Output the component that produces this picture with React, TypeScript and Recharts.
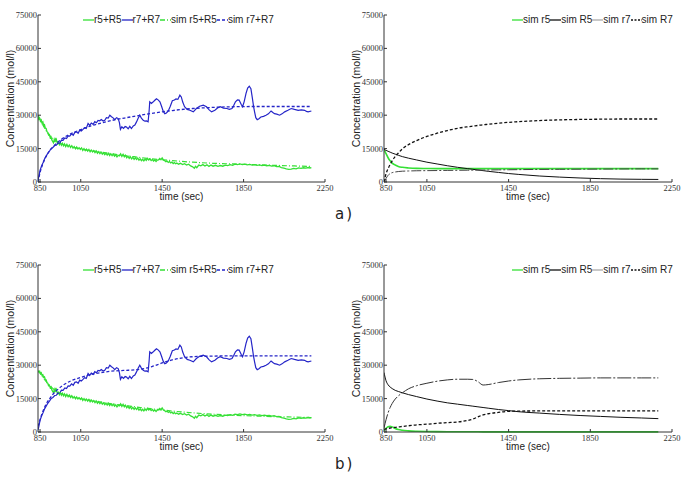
import React from 'react';
import { LineChart, Line, XAxis, YAxis, Legend } from 'recharts';

const X_TICKS = [850, 1050, 1450, 1850, 2250];
const Y_TICKS = [0, 15000, 30000, 45000, 60000, 75000];

// measured r7+R7 (time, concentration)
const r7Meas: number[][] = [
  [840, 800], [845, 2900], [850, 5200], [858, 7300], [865, 8700], [873, 10500], [880, 11600], [888, 12900],
  [897, 14000], [905, 15100], [913, 15500], [922, 16400], [930, 16500], [938, 17600], [947, 17500], [955, 18800],
  [963, 18700], [972, 19800], [980, 19500], [988, 20700], [996, 20600], [1005, 21600], [1013, 21000], [1021, 22300],
  [1029, 22500], [1037, 21900], [1045, 23300], [1053, 22900], [1061, 23600], [1069, 24400], [1077, 24100], [1086, 26300],
  [1094, 25400], [1102, 26500], [1111, 25900], [1119, 27100], [1127, 26600], [1135, 27700], [1143, 27500], [1151, 28100],
  [1160, 27400], [1168, 27700], [1176, 28900], [1185, 28700], [1193, 30000], [1201, 29300], [1209, 28800], [1217, 28000],
  [1226, 28900], [1234, 28500], [1240, 26700], [1245, 23600], [1252, 24800], [1260, 24100], [1268, 24900], [1275, 24700],
  [1283, 23900], [1291, 25000], [1299, 24000], [1308, 25200], [1316, 25600], [1324, 27000], [1332, 28600], [1340, 30000],
  [1348, 28700], [1357, 27700], [1365, 27300], [1373, 27400], [1381, 27000], [1386, 32000], [1389, 36000], [1397, 35300],
  [1405, 35900], [1414, 36700], [1422, 37400], [1430, 36900], [1439, 36000], [1447, 34000], [1455, 31800], [1463, 30700],
  [1471, 31000], [1480, 31900], [1490, 34000], [1500, 36500], [1510, 36800], [1518, 37300], [1527, 37100], [1537, 39000],
  [1544, 38200], [1551, 35900], [1560, 33800], [1573, 32600], [1586, 32200], [1603, 31500], [1618, 33000], [1634, 34000],
  [1652, 34500], [1668, 33800], [1681, 32400], [1693, 31500], [1709, 32200], [1722, 33200], [1735, 33800], [1751, 33200],
  [1768, 33000], [1780, 32600], [1793, 33000], [1802, 34500], [1810, 36000], [1820, 36900], [1828, 36800], [1838, 34900],
  [1845, 33800], [1853, 36100], [1862, 39800], [1870, 42200], [1878, 43000], [1886, 41900], [1893, 37800], [1899, 34000],
  [1904, 31500], [1910, 28900], [1917, 28000], [1924, 28300], [1935, 29200], [1948, 29500], [1960, 30000], [1972, 30600],
  [1985, 31900], [1994, 31200], [2002, 30700], [2013, 30500], [2027, 30000], [2039, 30600], [2052, 31500], [2068, 32200],
  [2084, 33000], [2100, 32600], [2118, 32200], [2134, 32400], [2150, 32200], [2159, 31700], [2167, 31500], [2183, 31900],
];

// measured r5+R5, start of run a)
const r5MeasStartA: number[][] = [
  [840, 29200], [844, 28100], [848, 28600], [852, 27300], [856, 27800], [860, 26400], [864, 26900], [868, 25300],
  [872, 25700], [876, 24200], [880, 24000], [884, 22600], [888, 22300], [892, 21100], [896, 21300],
];
// measured r5+R5, start of run b)
const r5MeasStartB: number[][] = [
  [840, 27500], [844, 27000], [848, 27300], [852, 26200], [856, 26600], [860, 25400], [864, 25700], [868, 24500],
  [872, 24800], [876, 23500], [880, 23400], [884, 22100], [888, 21900], [892, 20800], [896, 21000],
];
// measured r5+R5, rest (same in both runs)
const r5MeasRest: number[][] = [
  [900, 19900], [904, 20300], [908, 18900], [912, 18200], [916, 17600], [920, 19100], [924, 17900], [928, 19800],
  [932, 18400], [936, 17200], [940, 17800], [945, 16700], [950, 17600], [955, 16500], [960, 17400], [965, 16300],
  [970, 17100], [976, 15900], [982, 16900], [988, 15800], [994, 16600], [1000, 15500], [1006, 16300], [1012, 15200],
  [1018, 15900], [1024, 14900], [1030, 15700], [1036, 14800], [1042, 15400], [1048, 14600], [1054, 15300], [1060, 14200],
  [1066, 15000], [1072, 14100], [1078, 14800], [1084, 13900], [1090, 14600], [1096, 13600], [1102, 14300], [1108, 13500],
  [1114, 14100], [1120, 13200], [1126, 13900], [1132, 12900], [1138, 13600], [1144, 12700], [1150, 13400], [1156, 12500],
  [1162, 13100], [1168, 12300], [1174, 13000], [1180, 12100], [1186, 12900], [1192, 11900], [1198, 12600], [1204, 11800],
  [1210, 12500], [1216, 11600], [1222, 12200], [1228, 11300], [1234, 12000], [1240, 11700], [1246, 12600], [1252, 11500],
  [1258, 12400], [1264, 11300], [1270, 12000], [1276, 10900], [1282, 11600], [1288, 10600], [1294, 11300], [1300, 10400],
  [1306, 11100], [1312, 10200], [1318, 10900], [1324, 10100], [1330, 10700], [1336, 9800], [1342, 10400], [1348, 9600],
  [1354, 10200], [1360, 9500], [1366, 10300], [1372, 9700], [1378, 10600], [1384, 9900], [1390, 10400], [1396, 9600],
  [1402, 10100], [1408, 9400], [1414, 9900], [1420, 9200], [1426, 9800], [1432, 9900], [1438, 10600], [1444, 10000],
  [1450, 10800], [1456, 9900], [1462, 9600], [1468, 9100], [1474, 9400], [1480, 8800], [1486, 9200], [1492, 8600],
  [1498, 8900], [1504, 8300], [1510, 8700], [1516, 8200], [1522, 8500], [1530, 8000], [1540, 8400], [1550, 7800],
  [1560, 8200], [1570, 7600], [1580, 8000], [1590, 7200], [1600, 6800], [1608, 6200], [1614, 7000], [1620, 6400],
  [1630, 7600], [1640, 7300], [1650, 7800], [1660, 7200], [1670, 7700], [1680, 7000], [1690, 7600], [1700, 7100],
  [1712, 7500], [1724, 7000], [1736, 7400], [1748, 7100], [1760, 7600], [1772, 7400], [1784, 7800], [1796, 7500],
  [1808, 8000], [1820, 7800], [1832, 8100], [1844, 7800], [1856, 8000], [1868, 7700], [1880, 7900], [1892, 7600],
  [1904, 7800], [1916, 7500], [1928, 7700], [1940, 7400], [1952, 7600], [1964, 7300], [1976, 7500], [1988, 7100],
  [2000, 7300], [2012, 6900], [2024, 7000], [2036, 6500], [2048, 6200], [2060, 5900], [2072, 5700], [2084, 5800],
  [2096, 6100], [2108, 5900], [2120, 6300], [2132, 6100], [2144, 6400], [2156, 6200], [2168, 6500], [2176, 6300],
  [2183, 6500],
];

// simulation time grid
const simTimes = [840, 850, 860, 870, 880, 895, 910, 930, 960, 1000, 1050, 1100, 1150, 1200, 1250, 1275, 1300, 1325, 1350, 1400, 1450, 1500, 1600, 1700, 1800, 1900, 2000, 2100, 2183];

// a) sums
const simR5sumA = [30000, 28200, 26300, 24600, 23100, 21200, 19800, 18400, 17000, 15900, 14900, 14100, 13400, 12700, 12100, 11800, 11500, 11200, 10900, 10400, 10000, 9600, 8900, 8400, 8100, 7800, 7500, 7200, 7000];
const simR7sumA = [0, 4200, 7200, 9600, 11500, 13700, 15400, 17300, 19500, 21600, 23500, 25200, 26500, 27600, 28500, 28900, 29300, 29700, 30100, 30800, 31500, 32100, 33000, 33500, 33800, 33900, 33900, 33900, 33900];
// b) sums
const simR5sumB = [27500, 26400, 25100, 23800, 22700, 21100, 19800, 18400, 17100, 16000, 15000, 14200, 13400, 12700, 12100, 11800, 11500, 11200, 10900, 10400, 9900, 9400, 8600, 8000, 7500, 7200, 6900, 6700, 6500];
const simR7sumB = [2500, 5500, 8300, 10600, 12500, 14700, 16600, 18500, 20800, 22900, 24500, 25800, 26700, 27300, 27600, 27700, 27800, 28000, 28300, 29400, 31000, 32400, 33800, 34100, 34200, 34200, 34200, 34200, 34200];

// a) species
const simr5A = [14700, 12700, 10900, 9500, 8500, 7600, 7000, 6600, 6300, 6100, 6050, 6000, 6000, 6000, 6000, 6000, 6000, 6000, 6000, 6000, 6000, 6000, 6000, 6000, 6000, 6000, 6000, 6000, 6000];
const simR5A = [14700, 14200, 13800, 13400, 13000, 12500, 12000, 11400, 10700, 9900, 8900, 8100, 7300, 6600, 6000, 5700, 5400, 5100, 4800, 4300, 3800, 3400, 2700, 2200, 1800, 1500, 1300, 1200, 1150];
const simr7A = [0, 1600, 3000, 3800, 4200, 4500, 4700, 4850, 4950, 5050, 5100, 5150, 5200, 5250, 5300, 5300, 5350, 5350, 5400, 5450, 5500, 5550, 5650, 5700, 5750, 5800, 5850, 5900, 5900];
const simR7A = [0, 3700, 6000, 7900, 9500, 11500, 13000, 14900, 16800, 18600, 20500, 21900, 23100, 24100, 24800, 25100, 25400, 25700, 25900, 26400, 26800, 27100, 27600, 27900, 28100, 28200, 28300, 28300, 28300];
// b) species
const simr5B = [600, 1700, 2400, 2600, 2300, 1600, 1100, 750, 500, 330, 220, 160, 120, 100, 90, 80, 80, 70, 70, 60, 60, 60, 50, 50, 50, 50, 50, 50, 50];
const simR5B = [26700, 23000, 21200, 20200, 19500, 18700, 18200, 17600, 16800, 15900, 14800, 13900, 13100, 12500, 11900, 11600, 11300, 11000, 10700, 10100, 9600, 9100, 8500, 7900, 7400, 7000, 6600, 6300, 6000];
const simr7B = [1800, 5500, 8600, 11000, 12800, 14800, 16200, 17600, 19400, 20800, 21900, 22800, 23400, 23700, 23700, 23600, 22600, 21100, 21300, 22200, 22900, 23400, 23900, 24100, 24200, 24300, 24300, 24300, 24300];
const simR7B = [1200, 1400, 1600, 1800, 1950, 2100, 2300, 2500, 2800, 3200, 3500, 3900, 4200, 4500, 5200, 5800, 6800, 7700, 8200, 8800, 9300, 9400, 9450, 9450, 9450, 9450, 9450, 9450, 9450];

type Pt = { t: number; v: number };
const fromPairs = (rows: number[][]): Pt[] => rows.map(([t, v]) => ({ t, v }));
const onGrid = (vals: number[]): Pt[] => simTimes.map((t, i) => ({ t, v: vals[i] }));

const GREEN = '#35e035';
const BLUE = '#2525c8';
const BLACK = '#111';
const SANS = "'DejaVu Sans', sans-serif";
const NARROW = "'Liberation Sans', Arial, sans-serif";
const SERIF = "'Liberation Serif', 'Times New Roman', serif";

type Series = {
  name: string;
  data: Pt[];
  stroke: string;
  width: number;
  dash?: string;
  curve: 'linear' | 'monotone';
  legendStroke?: string;
  legendDash?: string;
};

const leftA: Series[] = [
  { name: 'r5+R5', data: fromPairs([...r5MeasStartA, ...r5MeasRest]), stroke: GREEN, width: 1.3, curve: 'linear' },
  { name: 'r7+R7', data: fromPairs(r7Meas), stroke: BLUE, width: 1.2, curve: 'linear' },
  { name: 'sim r5+R5', data: onGrid(simR5sumA), stroke: GREEN, width: 1.2, dash: '5 2 1 2', curve: 'monotone' },
  { name: 'sim r7+R7', data: onGrid(simR7sumA), stroke: BLUE, width: 1.3, dash: '3 2', curve: 'monotone' },
];
const leftB: Series[] = [
  { name: 'r5+R5', data: fromPairs([...r5MeasStartB, ...r5MeasRest]), stroke: GREEN, width: 1.3, curve: 'linear' },
  { name: 'r7+R7', data: fromPairs(r7Meas), stroke: BLUE, width: 1.2, curve: 'linear' },
  { name: 'sim r5+R5', data: onGrid(simR5sumB), stroke: GREEN, width: 1.2, dash: '5 2 1 2', curve: 'monotone' },
  { name: 'sim r7+R7', data: onGrid(simR7sumB), stroke: BLUE, width: 1.3, dash: '3 2', curve: 'monotone' },
];
const rightA: Series[] = [
  { name: 'sim r5', data: onGrid(simr5A), stroke: GREEN, width: 1.6, curve: 'monotone' },
  { name: 'sim R5', data: onGrid(simR5A), stroke: BLACK, width: 1, curve: 'monotone' },
  { name: 'sim r7', data: onGrid(simr7A), stroke: '#444', width: 1, dash: '10 2 2 2', curve: 'monotone', legendStroke: '#aaa', legendDash: '' },
  { name: 'sim R7', data: onGrid(simR7A), stroke: BLACK, width: 1.3, dash: '3 2', curve: 'monotone', legendDash: '2 1.5' },
];
const rightB: Series[] = [
  { name: 'sim r5', data: onGrid(simr5B), stroke: GREEN, width: 1.6, curve: 'monotone' },
  { name: 'sim R5', data: onGrid(simR5B), stroke: BLACK, width: 1, curve: 'monotone' },
  { name: 'sim r7', data: onGrid(simr7B), stroke: '#333', width: 1, dash: '14 2 2 2', curve: 'monotone', legendStroke: '#aaa', legendDash: '' },
  { name: 'sim R7', data: onGrid(simR7B), stroke: BLACK, width: 1.3, dash: '3 2', curve: 'monotone', legendDash: '2 1.5' },
];

const XTick = (props: any) => {
  const { x, y, payload } = props;
  return (
    <g>
      <line x1={x} x2={x} y1={y} y2={y - 3} stroke="#333" />
      <text x={x} y={y + 9} textAnchor="middle" fontSize={8.5} fontFamily={SERIF} fill="#333">{payload.value}</text>
    </g>
  );
};

const YTick = (props: any) => {
  const { x, y, payload } = props;
  return (
    <g>
      <line x1={x + 1} x2={x + 4} y1={y} y2={y} stroke="#333" />
      <text x={x} y={y + 3} textAnchor="end" fontSize={8.5} fontFamily={SERIF} fill="#333">{payload.value}</text>
    </g>
  );
};

const xTitle = (p: any) => {
  const vb = p.viewBox;
  return (
    <text x={vb.x + vb.width / 2} y={vb.y + 18} textAnchor="middle" fontSize={10} fontFamily={NARROW} fill="#222">
      time (sec)
    </text>
  );
};

const yTitle = (p: any) => {
  const vb = p.viewBox;
  const cx = vb.x + vb.width - 28;
  const cy = vb.y + vb.height / 2;
  return (
    <text x={cx} y={cy} transform={`rotate(-90, ${cx}, ${cy})`} textAnchor="middle" dominantBaseline="central" fontSize={10.5} fontFamily={NARROW} fill="#222">
      Concentration (mol/l)
    </text>
  );
};

const LegendBox = ({ items }: { items: Series[] }) => (
  <div style={{ display: 'flex', alignItems: 'center', fontFamily: NARROW, fontSize: 10, lineHeight: '12px', color: '#222', whiteSpace: 'nowrap' }}>
    {items.map((s) => (
      <span key={s.name} style={{ display: 'flex', alignItems: 'center' }}>
        <svg width={11} height={6}>
          <line x1={0} x2={11} y1={3} y2={3} stroke={s.legendStroke ?? s.stroke} strokeWidth={1.3} strokeDasharray={s.legendDash ?? s.dash} />
        </svg>
        <span>{s.name}</span>
      </span>
    ))}
  </div>
);

type PanelProps = {
  left: number;
  top: number;
  width: number;
  yAxisW: number;
  rightM: number;
  legendLeft: number;
  series: Series[];
};

const Panel = ({ left, top, width, yAxisW, rightM, legendLeft, series }: PanelProps) => (
  <div style={{ position: 'absolute', left, top }}>
    <LineChart width={width} height={205} margin={{ top: 15, right: rightM, left: 0, bottom: 0 }}>
      <XAxis
        type="number"
        dataKey="t"
        domain={[840, 2250]}
        ticks={X_TICKS}
        interval={0}
        allowDataOverflow
        height={23}
        tickLine={false}
        tickSize={0}
        tickMargin={0}
        tick={<XTick />}
        stroke="#333"
        label={xTitle}
      />
      <YAxis
        type="number"
        domain={[0, 75000]}
        ticks={Y_TICKS}
        interval={0}
        width={yAxisW}
        tickLine={false}
        tickSize={0}
        tickMargin={1}
        tick={<YTick />}
        stroke="#333"
        label={yTitle}
      />
      <Legend
        layout="horizontal"
        verticalAlign="middle"
        align="center"
        content={() => <LegendBox items={series} />}
        wrapperStyle={{ position: 'absolute', left: legendLeft, top: 14, width: 'auto', height: 'auto' }}
      />
      {series.map((s) => (
        <Line
          key={s.name}
          data={s.data}
          dataKey="v"
          name={s.name}
          type={s.curve}
          stroke={s.stroke}
          strokeWidth={s.width}
          strokeDasharray={s.dash}
          dot={false}
          activeDot={false}
          isAnimationActive={false}
        />
      ))}
    </LineChart>
  </div>
);

const caption: React.CSSProperties = {
  position: 'absolute',
  fontFamily: SANS,
  fontSize: 15,
  color: '#222',
  letterSpacing: 2,
};

export default function App() {
  return (
    <div style={{ position: 'absolute', left: 0, top: 0, width: 685, height: 482, background: '#fff', overflow: 'hidden' }}>
      <Panel left={0} top={0} width={342} yAxisW={38} rightM={17} legendLeft={83} series={leftA} />
      <Panel left={342} top={0} width={343} yAxisW={42} rightM={13} legendLeft={170} series={rightA} />
      <Panel left={0} top={250} width={342} yAxisW={38} rightM={17} legendLeft={83} series={leftB} />
      <Panel left={342} top={250} width={343} yAxisW={42} rightM={13} legendLeft={170} series={rightB} />
      <div style={{ ...caption, left: 335, top: 205 }}>a)</div>
      <div style={{ ...caption, left: 335, top: 455 }}>b)</div>
    </div>
  );
}
